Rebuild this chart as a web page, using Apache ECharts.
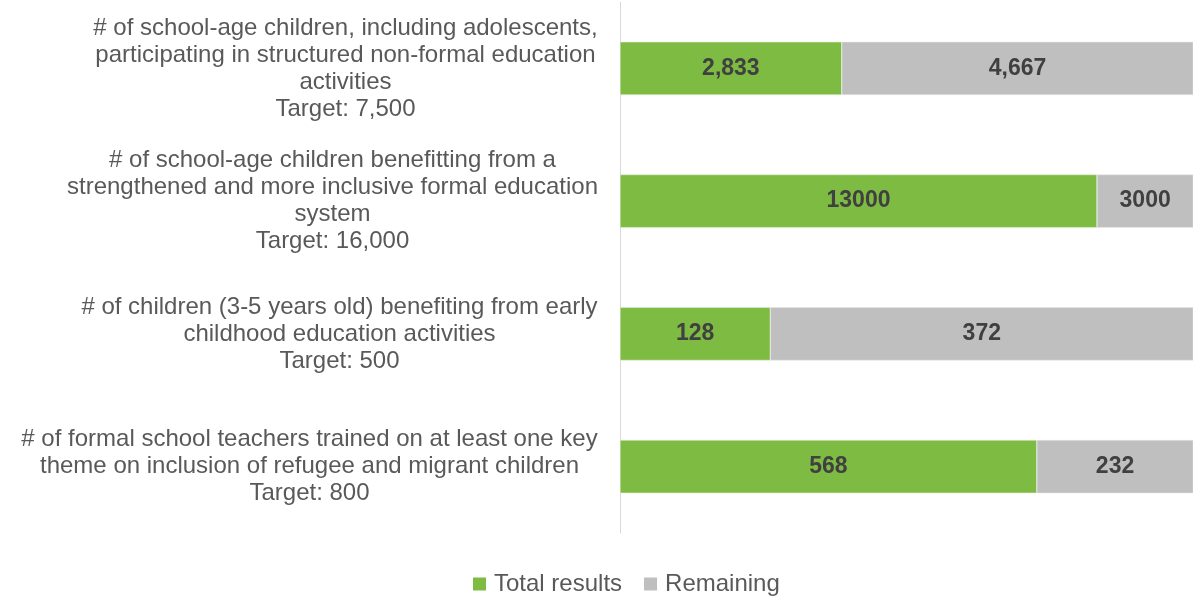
<!DOCTYPE html>
<html>
<head>
<meta charset="utf-8">
<script src="https://cdn.jsdelivr.net/npm/echarts@6/dist/echarts.min.js"></script>
<style>html,body{margin:0;padding:0;background:#fff}#c{width:1193px;height:600px}</style>
</head>
<body>
<div id="c"></div>
<script>
const categories = [
  "# of school-age children, including adolescents,\nparticipating in structured non-formal education\nactivities\nTarget: 7,500",
  "# of school-age children benefitting from a\nstrengthened and more inclusive formal education\nsystem\nTarget: 16,000",
  "# of children (3-5 years old) benefiting from early\nchildhood education activities\nTarget: 500",
  "# of formal school teachers trained on at least one key\ntheme on inclusion of refugee and migrant children\nTarget: 800"
];
const totalResults = [2833, 13000, 128, 568];
const remaining = [4667, 3000, 372, 232];
const totalLabels = ["2,833", "13000", "128", "568"];
const remainingLabels = ["4,667", "3000", "372", "232"];
const seriesNames = ["Total results", "Remaining"];

const FONT = '"Liberation Sans", Arial, sans-serif';
const fs = 24;
const cv = document.createElement('canvas').getContext('2d');
cv.font = fs + 'px ' + FONT;
const rich = {};
categories.forEach((c, i) => {
  const w = Math.max(...c.split('\n').map(l => cv.measureText(l).width));
  rich['c' + i] = { width: Math.ceil(w), align: 'center', fontSize: fs, lineHeight: 27, color: '#595959', fontFamily: FONT };
});

const targets = totalResults.map((v, i) => v + remaining[i]);
const pctTotal = totalResults.map((v, i) => v / targets[i] * 100);
const pctRem = remaining.map((v, i) => v / targets[i] * 100);

const chart = echarts.init(document.getElementById('c'));
chart.setOption({
  animation: false,
  textStyle: { fontFamily: FONT },
  grid: { left: 620, right: 0, top: 2, bottom: 67, containLabel: false },
  legend: {
    bottom: -1, left: 468, itemWidth: 13, itemHeight: 13, itemGap: 22,
    icon: 'rect',
    itemStyle: { borderWidth: 0 },
    textStyle: { fontSize: 24, color: '#595959', fontFamily: FONT, padding: [0, 0, 0, 3] },
    data: seriesNames
  },
  xAxis: { type: 'value', min: 0, max: 97.6, show: false },
  yAxis: {
    type: 'category', inverse: true, data: categories,
    axisLine: { show: true, lineStyle: { color: '#D9D9D9', width: 1 } },
    axisTick: { show: false },
    axisLabel: {
      margin: 22, align: 'right',
      formatter: (v, i) => v.split('\n').map(l => '{c' + i + '|' + l + '}').join('\n'),
      rich: rich
    }
  },
  series: [
    {
      name: seriesNames[0], type: 'bar', stack: 's', barWidth: '40%', clip: true,
      data: pctTotal,
      itemStyle: { color: '#7EBB42', borderColor: '#E8F0DC', borderWidth: 0.5 },
      label: { show: true, position: 'inside', formatter: p => totalLabels[p.dataIndex],
        fontSize: 23, fontWeight: 'bold', color: '#404040', fontFamily: FONT }
    },
    {
      name: seriesNames[1], type: 'bar', stack: 's', barWidth: '40%', clip: true,
      data: pctRem,
      itemStyle: { color: '#BFBFBF', borderColor: '#E6E6E6', borderWidth: 0.5 },
      label: { show: true, position: 'inside', formatter: p => remainingLabels[p.dataIndex],
        fontSize: 23, fontWeight: 'bold', color: '#404040', fontFamily: FONT }
    }
  ]
});
</script>
</body>
</html>
